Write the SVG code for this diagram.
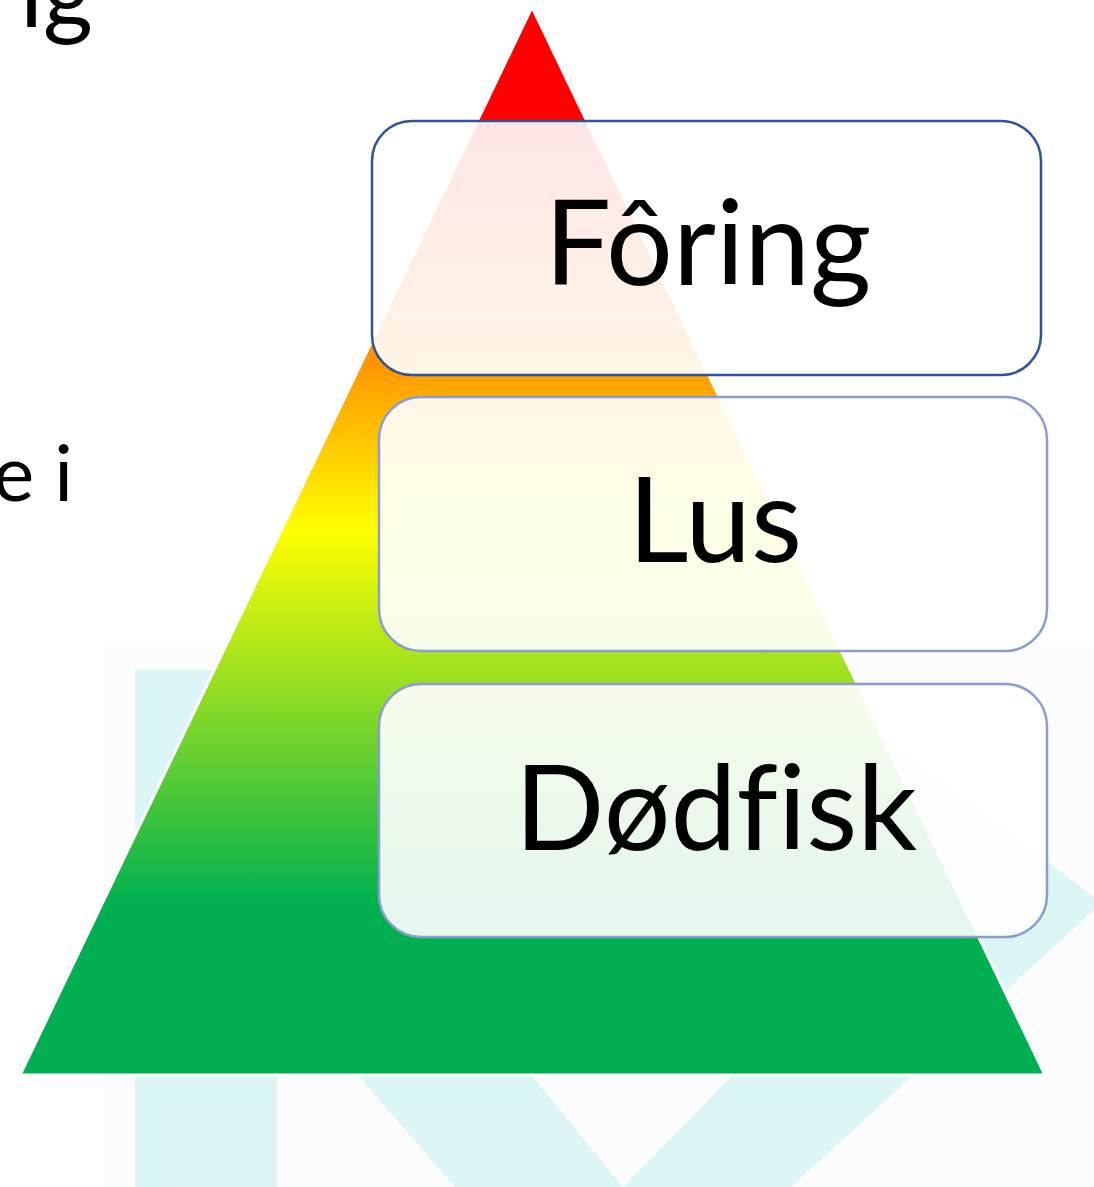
<svg xmlns="http://www.w3.org/2000/svg" width="1094" height="1187" viewBox="0 0 1094 1187">
<defs>
<linearGradient id="pyr" x1="0" y1="7" x2="0" y2="1075" gradientUnits="userSpaceOnUse">
<stop offset="0" stop-color="#ff0000"/>
<stop offset="0.1" stop-color="#ff0000"/>
<stop offset="0.34" stop-color="#ff9a00"/>
<stop offset="0.49" stop-color="#ffff00"/>
<stop offset="0.84" stop-color="#00b050"/>
<stop offset="1" stop-color="#00b050"/>
</linearGradient>
<style>
.wm{fill:#dcf5f6}
.box{fill:#ffffff;fill-opacity:0.9;stroke-width:2.5}
.b1{stroke:#2f5597}
.b2{stroke:#8a9dd3}
text{font-variant-ligatures:none;font-feature-settings:"liga" 0}
.lbl{font-family:Lato,"Open Sans",sans-serif;font-size:118px;fill:#000;text-anchor:middle}
.side{font-family:Lato,"Open Sans",sans-serif;fill:#000}
</style>
</defs>
<rect width="1094" height="1187" fill="#ffffff"/>
<g id="watermark">
<rect x="104" y="643" width="990" height="544" fill="#fcfcfc"/>
<rect class="wm" x="135" y="670" width="142" height="517"/>
<polygon class="wm" points="249,950 429,950 623,1187 455,1187"/>
<polygon class="wm" points="623,1187 791,1187 1094,910 1094,897 780,662 700,900 730,1078"/>
</g>
<g id="pyramid">
<polygon points="532,7 1045,1075 20,1075" fill="url(#pyr)" stroke="#ffffff" stroke-width="3" stroke-linejoin="miter"/>
</g>
<g id="side-text">
<text class="side" x="20" y="27" font-size="96">ig</text>
<text class="side" x="-7" y="501" font-size="78">e i</text>
</g>
<g id="connectors"></g>
<g id="node-foring">
<rect class="box b1" x="372" y="121" width="669" height="254" rx="40"/>
<text class="lbl" x="708" y="285">Fôring</text>
</g>
<g id="node-lus">
<rect class="box b2" x="379" y="397" width="668" height="254" rx="42"/>
<text class="lbl" x="715" y="562">Lus</text>
</g>
<g id="node-dodfisk">
<rect class="box b2" x="379" y="684" width="668" height="253" rx="42"/>
<text class="lbl" x="716" y="850">Dødfisk</text>
</g>
</svg>
